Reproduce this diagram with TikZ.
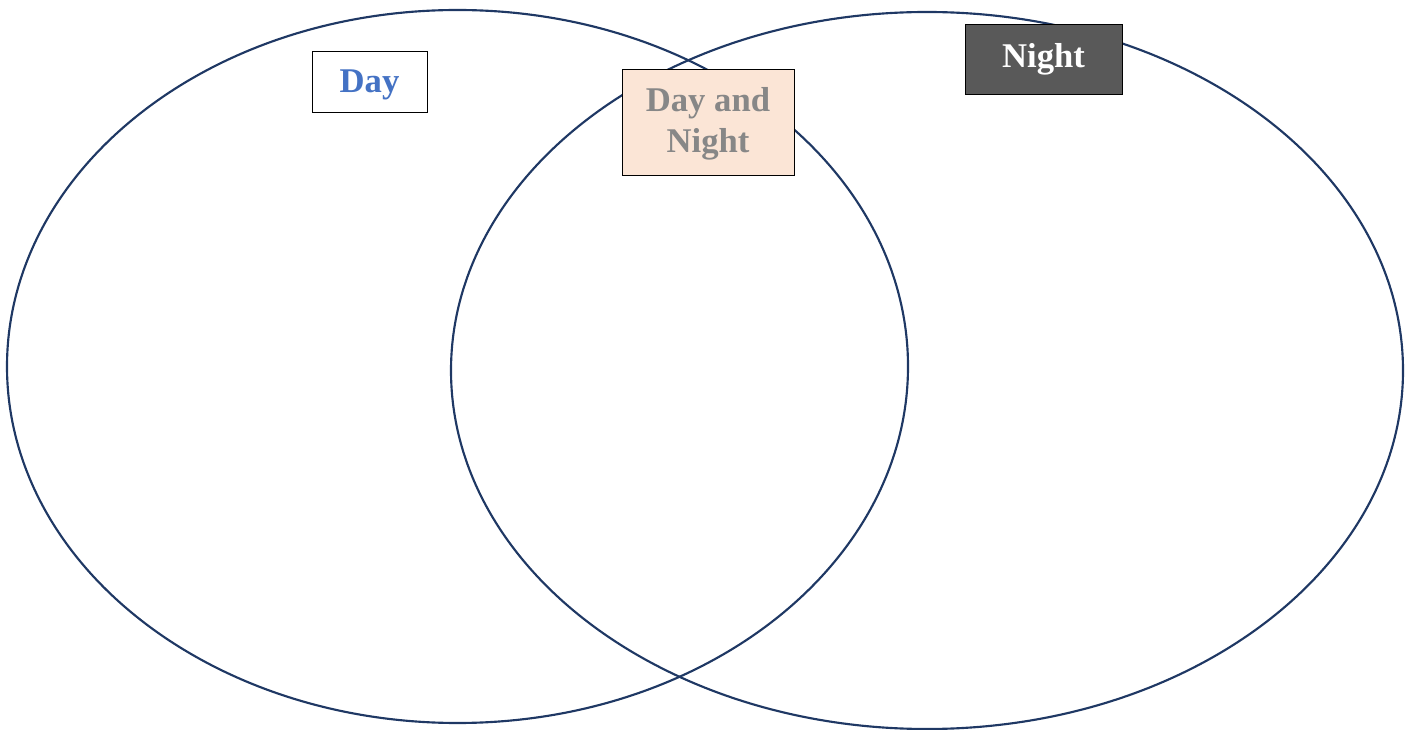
\documentclass[tikz,border=0pt]{standalone}
\usepackage{fontspec}
\setmainfont{Liberation Serif}
\definecolor{rim}{HTML}{1F3864}
\definecolor{dayblue}{HTML}{4472C4}
\definecolor{peach}{HTML}{FBE5D6}
\definecolor{midgrey}{HTML}{878787}
\definecolor{darkgrey}{HTML}{595959}
\tikzset{
    setline/.style={rim, line width=1.6pt},
    tag/.style={draw=black, line width=0.7pt, inner sep=0pt, font=\fontsize{26}{31}\selectfont\bfseries, align=center},
}
\begin{document}
\begin{tikzpicture}[x=0.75pt, y=-0.75pt]
    \useasboundingbox (0, 0) rectangle (1413, 730);
    \draw[setline] (457.5, 366.5) ellipse [x radius=450.5, y radius=356.5];
    \draw[setline] (927, 370.5) ellipse [x radius=476, y radius=358.5];
    % labels
    \node[tag, fill=white, text=dayblue, minimum width=86.25pt, minimum height=45.75pt, text height=21pt, text depth=5pt] (day) at (369.5, 81.5) {Day};
    \node[tag, fill=peach, text=midgrey, minimum width=129pt, minimum height=79.5pt, text height=51.5pt, text depth=5pt] (both) at (708, 122) {Day and\\Night};
    \node[tag, fill=darkgrey, text=white, minimum width=117.75pt, minimum height=52.5pt] (night) at (1043.5, 59) {Night};
\end{tikzpicture}
\end{document}
